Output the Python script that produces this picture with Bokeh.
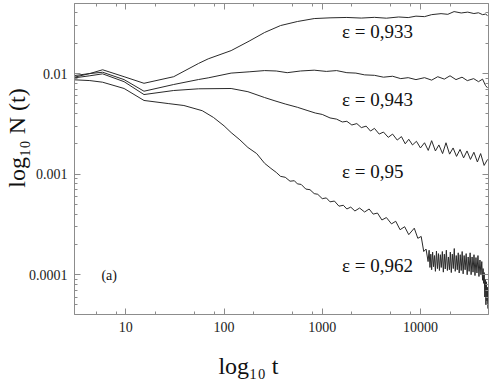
from bokeh.plotting import figure
from bokeh.models import LogAxis, FixedTicker, CustomJSTickFormatter, Label, Range1d
from bokeh.embed import file_html
from bokeh.resources import INLINE

# ---- data (t, N(t)) ----
t_933 = [3.0, 4.3, 5.8, 9.6, 15.3, 30.7, 55, 69, 118, 180,
         259, 376, 558, 828, 1200, 1780, 2500, 3400, 4500, 6000,
         7500, 9000, 11000, 13000, 16200, 19000, 22000, 26000, 30300, 35000,
         39000, 42900, 46000, 48200]
n_933 = [0.0092, 0.0100, 0.0109, 0.0093, 0.0080, 0.0093, 0.0126, 0.0140, 0.0169, 0.0210,
         0.0256, 0.0300, 0.0329, 0.0352, 0.0358, 0.0361, 0.0356, 0.0362, 0.0355, 0.0365,
         0.0360, 0.0372, 0.0368, 0.0385, 0.0394, 0.0388, 0.0413, 0.0400, 0.0408, 0.0395,
         0.0402, 0.0385, 0.0390, 0.0377]

t_943 = [3.0, 4.3, 5.8, 9.6, 15.3, 30.7, 55, 69, 118, 180,
         259, 340, 440, 600, 828, 1100, 1400, 1780, 2200, 2700,
         3400, 4200, 5200, 6300, 7500, 9000, 11000, 13000, 15000, 17500,
         20000, 23000, 26500, 30000, 34800, 39000, 42900, 46000, 48200]
n_943 = [0.00955, 0.0100, 0.0103, 0.0087, 0.00667, 0.00778, 0.00872, 0.00906, 0.0101, 0.0104,
         0.0107, 0.0106, 0.0102, 0.0106, 0.0108, 0.0105, 0.0107, 0.0102, 0.0101, 0.0097,
         0.0096, 0.0092, 0.0094, 0.0089, 0.0091, 0.0087, 0.0091, 0.0086, 0.0093, 0.0088,
         0.0095, 0.0087, 0.0092, 0.0085, 0.0089, 0.0083, 0.0088, 0.0076, 0.0072]

t_95 = [3.0, 4.3, 5.8, 9.6, 15.3, 30.7, 55, 118, 175, 259,
        330, 420, 558, 700, 850, 1000, 1200, 1400, 1600, 1780,
        2000, 2250, 2500, 2800, 3100, 3400, 3800, 4200, 4700, 5200,
        5800, 6400, 7000, 7600, 8300, 9100, 10000, 11000, 12000, 13000,
        14200, 15400, 16800, 18200, 19800, 21500, 23300, 25300, 27500, 29800,
        32300, 35000, 38000, 41000, 44500, 48200]
n_95 = [0.00906, 0.0095, 0.00993, 0.0083, 0.00618, 0.00678, 0.00705, 0.0071, 0.0066, 0.00577,
        0.00535, 0.00498, 0.00462, 0.00430, 0.00405, 0.00392, 0.00362, 0.00352, 0.00330, 0.00335,
        0.00308, 0.00318, 0.00290, 0.00300, 0.00268, 0.00285, 0.00250, 0.00262, 0.00232, 0.00250,
        0.00218, 0.00236, 0.00200, 0.00222, 0.00195, 0.00212, 0.00182, 0.00205, 0.00172, 0.00215,
        0.00170, 0.00195, 0.00160, 0.00205, 0.00158, 0.00182, 0.00150, 0.00176, 0.00145, 0.00170,
        0.00140, 0.00165, 0.00132, 0.00160, 0.00122, 0.00140]

t_962 = [3.0, 4.3, 5.8, 9.6, 15.3, 27, 39, 60, 78, 100,
         118, 145, 175, 215, 259, 300, 340, 376, 420, 470,
         520, 558, 610, 680, 750, 828, 900, 1000, 1100, 1200,
         1330, 1480, 1640, 1780, 1950, 2150, 2400, 2700, 3000, 3300,
         3650, 4050, 4500, 5070, 5600, 6200, 6900, 7600, 8650, 9400,
         10170, 10800, 11400,
         11960, 12250, 12500, 12750, 13000, 13300, 13600, 13900, 14200, 14550,
         14900, 15250, 15600, 15950, 16300, 16700, 17100, 17500, 17900, 18350,
         18800, 19250, 19700, 20150, 20600, 21100, 21600, 22100, 22600, 23150,
         23700, 24250, 24800, 25400, 26000, 26600, 27200, 27850, 28500, 29200,
         29900, 30600, 31300, 32050, 32800, 33550, 34300, 35100, 35900, 36750,
         37600, 38500, 39400, 40350, 41300, 42100, 42900, 43450, 44000, 44600,
         45200, 45800, 46400, 46950, 47500, 48000, 48500]
n_962 = [0.00866, 0.00851, 0.0082, 0.0071, 0.0054, 0.00503, 0.00481, 0.00427, 0.00366, 0.00302,
         0.00259, 0.00219, 0.00184, 0.00160, 0.00128, 0.00114, 0.00104, 0.00095, 0.00093, 0.00085,
         0.00086, 0.00080, 0.00079, 0.00071, 0.00070, 0.00064, 0.00063, 0.00057, 0.00058, 0.00053,
         0.00054, 0.00048, 0.00049, 0.00045, 0.00047, 0.00043, 0.00046, 0.00042, 0.00045, 0.00040,
         0.00041, 0.00035, 0.00037, 0.00032, 0.00034, 0.00028, 0.00030, 0.00025, 0.00029, 0.00023,
         0.00024, 0.00017, 0.00018,
         0.000135, 0.000175, 0.000118, 0.000160, 0.000112, 0.000168, 0.000120, 0.000155, 0.000108, 0.000172,
         0.000115, 0.000162, 0.000110, 0.000158, 0.000118, 0.000170, 0.000106, 0.000160, 0.000114, 0.000175,
         0.000110, 0.000150, 0.000112, 0.000168, 0.000105, 0.000160, 0.000115, 0.000182, 0.000108, 0.000155,
         0.000112, 0.000165, 0.000104, 0.000158, 0.000110, 0.000170, 0.000102, 0.000155, 0.000112, 0.000162,
         0.000100, 0.000150, 0.000108, 0.000165, 0.000100, 0.000150, 0.000106, 0.000158, 0.000098, 0.000148,
         0.000104, 0.000155, 0.000096, 0.000140, 0.000100, 0.000135, 0.000088, 0.000115, 0.000082, 0.000105,
         0.000060, 0.000090, 0.000050, 0.000085, 0.000055, 0.000075, 0.000046]

series_t = [t_933, t_943, t_95, t_962]
series_n = [n_933, n_943, n_95, n_962]
eps_labels = ["ε = 0,933", "ε = 0,943", "ε = 0,95", "ε = 0,962"]
eps_label_x = 1590
eps_label_y = [0.0262, 0.00558, 0.00106, 0.000123]

x_major = [10, 100, 1000, 10000]
x_minor = [5, 8, 20, 50, 80, 200, 500, 800, 2000, 5000, 8000, 20000]
y_major = [0.0001, 0.001, 0.01]
y_minor = [5e-5, 6e-5, 7e-5, 8e-5, 9e-5,
           2e-4, 3e-4, 4e-4, 5e-4, 6e-4, 7e-4, 8e-4, 9e-4,
           2e-3, 3e-3, 4e-3, 5e-3, 6e-3, 7e-3, 8e-3, 9e-3,
           0.02, 0.03, 0.04]

SERIF = "Liberation Serif"
AX = "#8c8c8c"
NB = "\u00a0"

p = figure(width=491, height=382, x_axis_type="log", y_axis_type="log",
           x_range=Range1d(3.0, 49300), y_range=Range1d(4.02e-5, 0.0497),
           output_backend="svg", toolbar_location=None,
           min_border_left=70, min_border_right=3, min_border_top=3, min_border_bottom=68)
p.xgrid.visible = False
p.ygrid.visible = False
p.outline_line_color = AX
p.background_fill_color = "white"
p.border_fill_color = "white"

for tt, nn in zip(series_t, series_n):
    p.line(tt, nn, line_color="#2a2a2a", line_width=1)


def style(ax, major, minor, show):
    ax.ticker = FixedTicker(ticks=major, minor_ticks=minor)
    ax.axis_line_color = AX
    ax.major_tick_line_color = AX
    ax.minor_tick_line_color = AX
    ax.major_tick_in = 6
    ax.major_tick_out = 0
    ax.minor_tick_in = 3
    ax.minor_tick_out = 0
    if show:
        ax.formatter = CustomJSTickFormatter(code="return tick.toString();")
        ax.major_label_text_font = SERIF
        ax.major_label_text_font_size = "14px"
        ax.major_label_text_color = "#222222"
        ax.major_label_standoff = 7
        ax.axis_label_text_font = SERIF
        ax.axis_label_text_font_style = "normal"
        ax.axis_label_text_font_size = "24px"
        ax.axis_label_text_color = "#111111"
    else:
        ax.formatter = CustomJSTickFormatter(code="return '';")
        ax.major_label_text_font_size = "1px"
        ax.major_label_standoff = 0


style(p.xaxis[0], x_major, x_minor, True)
style(p.yaxis[0], y_major, y_minor, True)
p.xaxis[0].axis_label = "log\u2081\u2080 t" + NB * 11
p.xaxis[0].axis_label_standoff = 18
p.yaxis[0].axis_label = NB * 7 + "log\u2081\u2080 N (t)"
p.yaxis[0].axis_label_standoff = -4

top = LogAxis()
right = LogAxis()
style(top, x_major, x_minor, False)
style(right, y_major, y_minor, False)
p.add_layout(top, "above")
p.add_layout(right, "right")

for txt, yy in zip(eps_labels, eps_label_y):
    p.add_layout(Label(x=eps_label_x, y=yy, text=txt, text_font=SERIF,
                       text_font_size="19px", text_baseline="middle", text_color="#111111"))

p.add_layout(Label(x=5.64, y=9.8e-5, text="(a)", text_font=SERIF, text_font_size="14px",
                   text_baseline="middle", text_color="#111111"))

open("out.html", "w").write(file_html(p, INLINE))
